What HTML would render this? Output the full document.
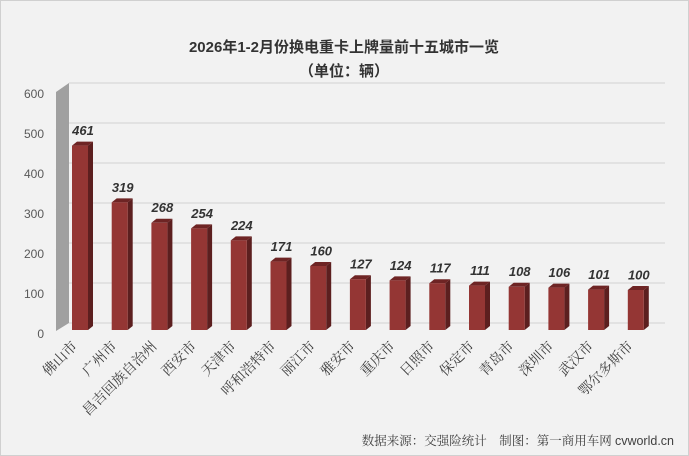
<!DOCTYPE html>
<html><head><meta charset="utf-8"><style>
html,body{margin:0;padding:0;background:#fff}
svg{display:block}
.sd{fill:#5c1f1f}.tp{fill:#6e2424}.fr{fill:#943634}
.v{font-family:"Liberation Sans",sans-serif;font-weight:bold;font-style:italic;font-size:13px;fill:#333;text-anchor:middle}
.l{font-family:"Noto Serif CJK SC","Noto Sans CJK SC",serif;font-size:14px;fill:#404040;text-anchor:end}
</style></head><body>
<svg width="689" height="456" viewBox="0 0 689 456" xmlns="http://www.w3.org/2000/svg">
<rect x="0.5" y="0.5" width="688" height="455" fill="#f2f2f2" stroke="#d0d0d0"/>
<text x="344" y="52" text-anchor="middle" font-family="Liberation Sans,'Noto Sans CJK SC',sans-serif" font-weight="bold" font-size="15" fill="#333">2026年1-2月份换电重卡上牌量前十五城市一览</text>
<text x="344" y="76" text-anchor="middle" font-family="Liberation Sans,'Noto Sans CJK SC',sans-serif" font-weight="bold" font-size="15" fill="#333">（单位：辆）</text>
<g stroke="#d9d9d9" stroke-width="1.3">
<line x1="69" y1="83" x2="665" y2="83"/><line x1="69" y1="123" x2="665" y2="123"/><line x1="69" y1="163" x2="665" y2="163"/><line x1="69" y1="203" x2="665" y2="203"/><line x1="69" y1="243" x2="665" y2="243"/><line x1="69" y1="283" x2="665" y2="283"/><line x1="69" y1="323" x2="665" y2="323"/>
<line x1="56" y1="290" x2="69" y2="283"/><line x1="56" y1="250" x2="69" y2="243"/><line x1="56" y1="210" x2="69" y2="203"/><line x1="56" y1="170" x2="69" y2="163"/><line x1="56" y1="130" x2="69" y2="123"/>
</g>
<polygon points="56,92 69,83 69,323 56,331" fill="#a0a0a0"/>
<g font-family="Liberation Sans,sans-serif" font-size="12" fill="#595959" text-anchor="end">
<text x="44" y="98">600</text><text x="44" y="138">500</text><text x="44" y="178">400</text><text x="44" y="218">300</text><text x="44" y="258">200</text><text x="44" y="298">100</text><text x="44" y="338">0</text>
</g>

<g transform="translate(72,0)"><polygon class="sd" points="16,145.6 21,141.6 21,326 16,330"/><polygon class="tp" points="0,145.6 5,141.6 21,141.6 16,145.6"/><rect class="fr" x="0" y="145.6" width="16" height="184.4"/><text class="v" x="11" y="135">461</text><text class="l" transform="translate(6,347) rotate(-45)">佛山市</text></g>
<g transform="translate(111.7,0)"><polygon class="sd" points="16,202.4 21,198.4 21,326 16,330"/><polygon class="tp" points="0,202.4 5,198.4 21,198.4 16,202.4"/><rect class="fr" x="0" y="202.4" width="16" height="127.6"/><text class="v" x="11" y="192">319</text><text class="l" transform="translate(6,347) rotate(-45)">广州市</text></g>
<g transform="translate(151.4,0)"><polygon class="sd" points="16,222.8 21,218.8 21,326 16,330"/><polygon class="tp" points="0,222.8 5,218.8 21,218.8 16,222.8"/><rect class="fr" x="0" y="222.8" width="16" height="107.2"/><text class="v" x="11" y="212">268</text><text class="l" transform="translate(6,347) rotate(-45)">昌吉回族自治州</text></g>
<g transform="translate(191.1,0)"><polygon class="sd" points="16,228.4 21,224.4 21,326 16,330"/><polygon class="tp" points="0,228.4 5,224.4 21,224.4 16,228.4"/><rect class="fr" x="0" y="228.4" width="16" height="101.6"/><text class="v" x="11" y="218">254</text><text class="l" transform="translate(6,347) rotate(-45)">西安市</text></g>
<g transform="translate(230.8,0)"><polygon class="sd" points="16,240.4 21,236.4 21,326 16,330"/><polygon class="tp" points="0,240.4 5,236.4 21,236.4 16,240.4"/><rect class="fr" x="0" y="240.4" width="16" height="89.6"/><text class="v" x="11" y="230">224</text><text class="l" transform="translate(6,347) rotate(-45)">天津市</text></g>
<g transform="translate(270.5,0)"><polygon class="sd" points="16,261.6 21,257.6 21,326 16,330"/><polygon class="tp" points="0,261.6 5,257.6 21,257.6 16,261.6"/><rect class="fr" x="0" y="261.6" width="16" height="68.4"/><text class="v" x="11" y="251">171</text><text class="l" transform="translate(6,347) rotate(-45)">呼和浩特市</text></g>
<g transform="translate(310.2,0)"><polygon class="sd" points="16,266 21,262 21,326 16,330"/><polygon class="tp" points="0,266 5,262 21,262 16,266"/><rect class="fr" x="0" y="266" width="16" height="64"/><text class="v" x="11" y="255.5">160</text><text class="l" transform="translate(6,347) rotate(-45)">丽江市</text></g>
<g transform="translate(349.9,0)"><polygon class="sd" points="16,279.2 21,275.2 21,326 16,330"/><polygon class="tp" points="0,279.2 5,275.2 21,275.2 16,279.2"/><rect class="fr" x="0" y="279.2" width="16" height="50.8"/><text class="v" x="11" y="268.5">127</text><text class="l" transform="translate(6,347) rotate(-45)">雅安市</text></g>
<g transform="translate(389.6,0)"><polygon class="sd" points="16,280.4 21,276.4 21,326 16,330"/><polygon class="tp" points="0,280.4 5,276.4 21,276.4 16,280.4"/><rect class="fr" x="0" y="280.4" width="16" height="49.6"/><text class="v" x="11" y="270">124</text><text class="l" transform="translate(6,347) rotate(-45)">重庆市</text></g>
<g transform="translate(429.3,0)"><polygon class="sd" points="16,283.2 21,279.2 21,326 16,330"/><polygon class="tp" points="0,283.2 5,279.2 21,279.2 16,283.2"/><rect class="fr" x="0" y="283.2" width="16" height="46.8"/><text class="v" x="11" y="272.5">117</text><text class="l" transform="translate(6,347) rotate(-45)">日照市</text></g>
<g transform="translate(469,0)"><polygon class="sd" points="16,285.6 21,281.6 21,326 16,330"/><polygon class="tp" points="0,285.6 5,281.6 21,281.6 16,285.6"/><rect class="fr" x="0" y="285.6" width="16" height="44.4"/><text class="v" x="11" y="275">111</text><text class="l" transform="translate(6,347) rotate(-45)">保定市</text></g>
<g transform="translate(508.7,0)"><polygon class="sd" points="16,286.8 21,282.8 21,326 16,330"/><polygon class="tp" points="0,286.8 5,282.8 21,282.8 16,286.8"/><rect class="fr" x="0" y="286.8" width="16" height="43.2"/><text class="v" x="11" y="276">108</text><text class="l" transform="translate(6,347) rotate(-45)">青岛市</text></g>
<g transform="translate(548.4,0)"><polygon class="sd" points="16,287.6 21,283.6 21,326 16,330"/><polygon class="tp" points="0,287.6 5,283.6 21,283.6 16,287.6"/><rect class="fr" x="0" y="287.6" width="16" height="42.4"/><text class="v" x="11" y="277">106</text><text class="l" transform="translate(6,347) rotate(-45)">深圳市</text></g>
<g transform="translate(588.1,0)"><polygon class="sd" points="16,289.6 21,285.6 21,326 16,330"/><polygon class="tp" points="0,289.6 5,285.6 21,285.6 16,289.6"/><rect class="fr" x="0" y="289.6" width="16" height="40.4"/><text class="v" x="11" y="279">101</text><text class="l" transform="translate(6,347) rotate(-45)">武汉市</text></g>
<g transform="translate(627.8,0)"><polygon class="sd" points="16,290 21,286 21,326 16,330"/><polygon class="tp" points="0,290 5,286 21,286 16,290"/><rect class="fr" x="0" y="290" width="16" height="40"/><text class="v" x="11" y="279.5">100</text><text class="l" transform="translate(6,347) rotate(-45)">鄂尔多斯市</text></g>

<text x="674" y="445" text-anchor="end" font-family="'Noto Serif CJK SC',serif" font-size="12.5" fill="#404040">数据来源：交强险统计　制图：第一商用车网 <tspan font-family="Liberation Sans,sans-serif">cvworld.cn</tspan></text>
</svg>
</body></html>
